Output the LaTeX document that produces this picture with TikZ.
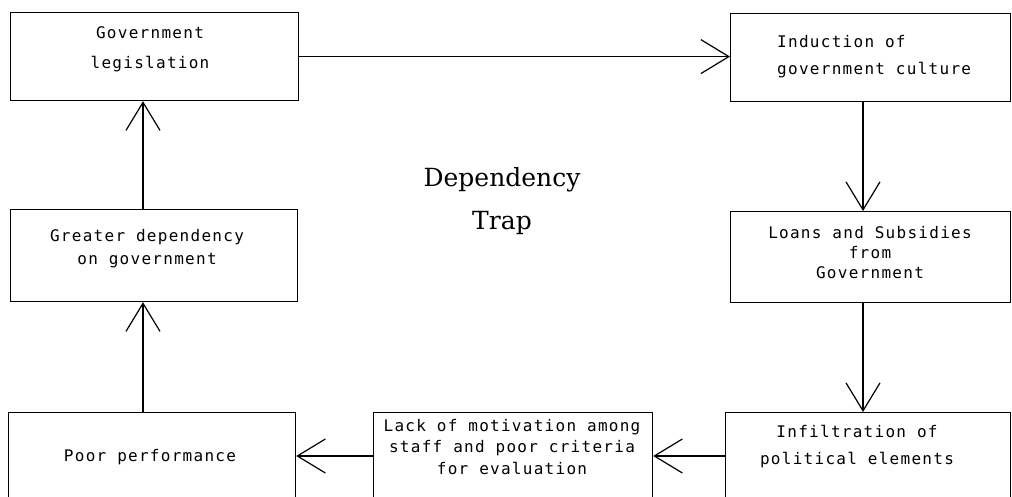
\documentclass[tikz,border=0pt]{standalone}
\usepackage{fontspec}
\usetikzlibrary{arrows.meta}
\newfontfamily\boxfnt[LetterSpace=8]{DejaVu Sans Mono}
\newfontfamily\trapfnt{DejaVu Serif}
\tikzset{
  box/.style={draw, line width=1.2pt, rectangle},
  txt/.style={align=center, inner sep=0pt, font=\boxfnt\fontsize{16}{#1}\selectfont},
  conn/.style={line width=1.2pt, -{Straight Barb[length=28pt,width=34pt,line width=1.2pt]}}
}
\begin{document}
\begin{tikzpicture}[x=1pt,y=-1pt]
\useasboundingbox (0,0) rectangle (1012,497);
\fill[white] (0,0) rectangle (1012,497);
\clip (0,0) rectangle (1012,497);
% helper coordinates
\coordinate (cL) at (143,0);
\coordinate (cR) at (863,0);
\coordinate (cB) at (0,456);
% boxes
\node[box, minimum width=288pt, minimum height=88pt, anchor=north west] (b1) at (10,12) {};
\node[box, minimum width=280pt, minimum height=88pt, anchor=north west] (b2) at (730,13) {};
\node[box, minimum width=287pt, minimum height=92pt, anchor=north west] (b3) at (10,209) {};
\node[box, minimum width=280pt, minimum height=91pt, anchor=north west] (b4) at (730,211) {};
\node[box, minimum width=287pt, minimum height=100pt, anchor=north west] (b5) at (8,412) {};
\node[box, minimum width=279pt, minimum height=100pt, anchor=north west] (b6) at (373,412) {};
\node[box, minimum width=285pt, minimum height=100pt, anchor=north west] (b7) at (725,412) {};
% texts
\node[txt=30] (t1) at (150,49) {Government\\legislation};
\node[txt=27, align=left, anchor=west] (t2) at (777,57) {Induction of\\government culture};
\node[txt=23] (t3) at (147,249) {Greater dependency\\on government};
\node[txt=20] (t4) at (870,253) {Loans and Subsidies\\from\\Government};
\node[txt=20] (t5) at (150,457) {Poor performance};
\node[txt=21.5] (t6) at (512,447) {Lack of motivation among\\staff and poor criteria\\for evaluation};
\node[txt=27] (t7) at (857,447) {Infiltration of\\political elements};
\node[align=center, inner sep=0pt, font=\trapfnt\fontsize{25}{43}\selectfont] (trap) at (502,201) {Dependency\\Trap};
% connectors
\draw[conn] (b1.east) -- (b2.west |- b1.east);
\draw[conn] (b2.south -| cR) -- (b4.north -| cR);
\draw[conn] (b4.south -| cR) -- (b7.north -| cR);
\draw[conn] (b7.west |- cB) -- (b6.east |- cB);
\draw[conn] (b6.west |- cB) -- (b5.east |- cB);
\draw[conn] (b5.north -| cL) -- (b3.south -| cL);
\draw[conn] (b3.north -| cL) -- (b1.south -| cL);
\end{tikzpicture}
\end{document}
